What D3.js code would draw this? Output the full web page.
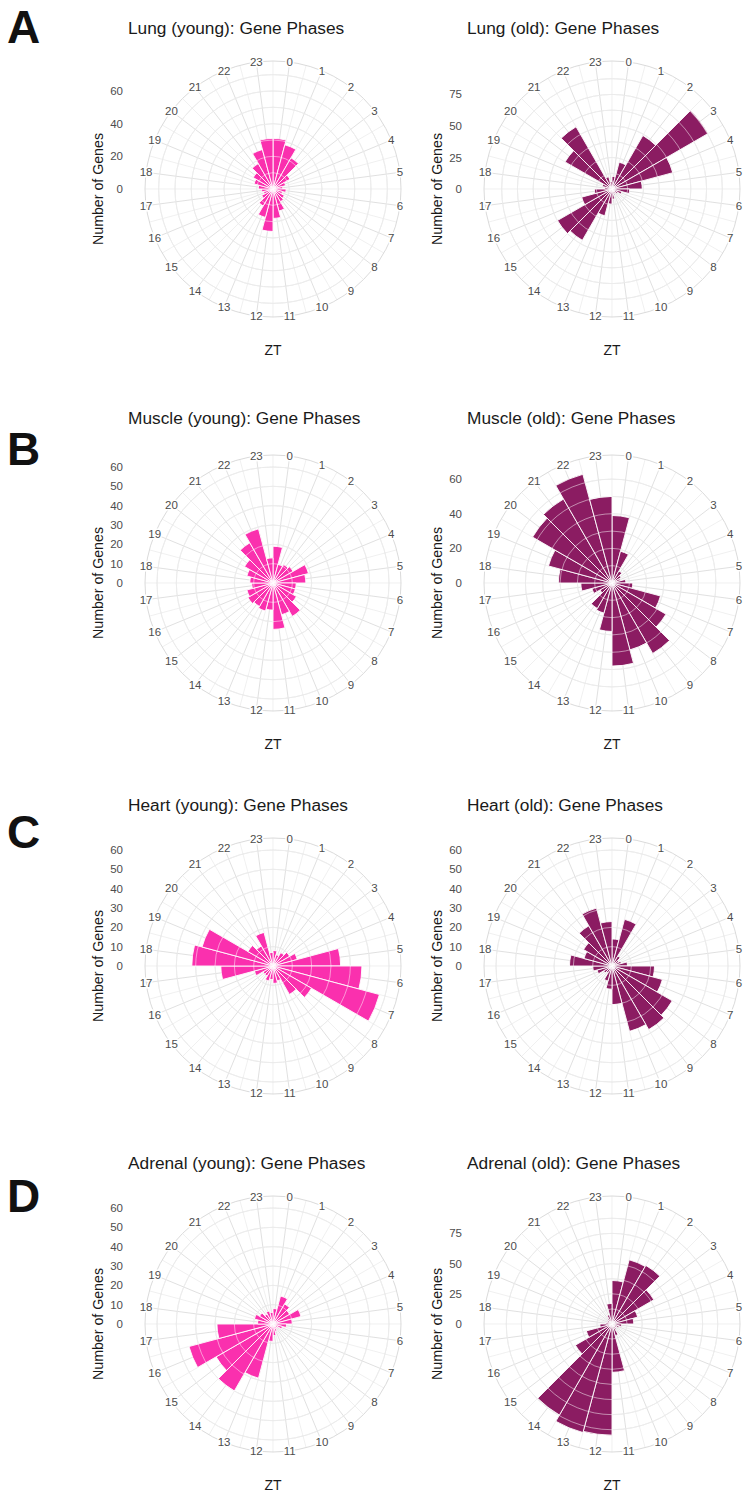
<!DOCTYPE html>
<html><head><meta charset="utf-8">
<script src="https://cdn.jsdelivr.net/npm/d3@7"></script>
<style>
body{margin:0;background:#fff}
svg{display:block}
text{font-family:"Liberation Sans",Arial,Helvetica,sans-serif}
</style>
</head><body>
<svg id="chart" width="743" height="1494"></svg>
<script>
// ---------------- data ----------------
const hours = [0,1,2,3,4,5,6,7,8,9,10,11,12,13,14,15,16,17,18,19,20,21,22,23];
const lungYoung    = [31,28,22,12,8,6,8,6,8,9,14,18,26,18,12,8,6,7,9,12,14,18,25,31];
const lungOld      = [10,22,49,88,50,24,14,8,5,4,5,8,12,22,47,50,25,14,6,8,43,57,10,6];
const muscleYoung  = [19,10,11,12,19,17,12,12,14,20,17,24,14,15,14,15,14,11,12,14,17,24,29,13];
const muscleOld    = [39,19,8,6,5,8,12,29,36,47,40,48,28,18,17,8,12,18,31,38,53,56,65,50];
const heartYoung   = [8,6,8,10,13,35,46,57,23,17,8,9,7,8,6,6,10,27,42,38,15,12,18,7];
const heartOld     = [14,25,6,4,5,8,22,27,36,38,35,20,12,8,4,5,8,10,22,15,17,24,31,23];
const adrenalYoung = [8,15,12,10,15,10,7,5,3,3,4,6,9,29,40,34,45,29,8,10,8,6,7,6];
const adrenalOld   = [36,55,56,40,22,18,8,6,4,5,10,40,92,93,87,35,22,10,5,4,4,5,8,17];

const titles = ["Lung (young): Gene Phases","Lung (old): Gene Phases",
                "Muscle (young): Gene Phases","Muscle (old): Gene Phases",
                "Heart (young): Gene Phases","Heart (old): Gene Phases",
                "Adrenal (young): Gene Phases","Adrenal (old): Gene Phases"];
const ticksBy20 = [0,20,40,60];
const ticksBy25 = [0,25,50,75];
const ticksBy10 = [0,10,20,30,40,50,60];
const rowLetters = ["A","B","C","D"];

// ---------------- layout / style ----------------
const youngColor = "#FA30AE";
const oldColor = "#8B1C62";
const RING = 128;       // theta-label ring radius
const RMAX = 116;       // radius for radial domain max

const panels = [
  {values: lungYoung,    color: youngColor, cx:273, cy:189,  rmax:71, ticks:ticksBy20, step:10,   zt:true},
  {values: lungOld,      color: oldColor,   cx:612, cy:189,  rmax:92, ticks:ticksBy25, step:12.5, zt:true},
  {values: muscleYoung,  color: youngColor, cx:273, cy:583,  rmax:60, ticks:ticksBy10, step:10,   zt:true},
  {values: muscleOld,    color: oldColor,   cx:612, cy:583,  rmax:67, ticks:ticksBy20, step:10,   zt:true},
  {values: heartYoung,   color: youngColor, cx:273, cy:966,  rmax:60, ticks:ticksBy10, step:10,   zt:false},
  {values: heartOld,     color: oldColor,   cx:612, cy:966,  rmax:60, ticks:ticksBy10, step:10,   zt:false},
  {values: adrenalYoung, color: youngColor, cx:273, cy:1324, rmax:60, ticks:ticksBy10, step:10,   zt:true},
  {values: adrenalOld,   color: oldColor,   cx:612, cy:1324, rmax:96, ticks:ticksBy25, step:12.5, zt:true}
];
const titleY = [28, 418, 805, 1163];
const letterY = [43, 465, 848, 1212];

const svg = d3.select("#chart");
svg.append("rect").attr("width",743).attr("height",1494).attr("fill","#fff");

const theta = d3.scaleLinear().domain([-0.5, 23.5]).range([0, 2*Math.PI]);

panels.forEach((p, i) => {
  const row = Math.floor(i/2);
  const r = d3.scaleLinear().domain([0, p.rmax]).range([0, RMAX]);
  const g = svg.append("g").attr("transform", `translate(${p.cx},${p.cy})`);

  const circleVals = d3.range(p.step, p.rmax + 0.01, p.step).filter(v => r(v) <= RMAX + 1);
  const pt = (a, rad) => [rad*Math.sin(a), -rad*Math.cos(a)];

  // grid under bars
  const grid = g.append("g");
  hours.forEach(h => {
    const a1 = theta(h), a2 = theta(h - 0.5);
    const [x1,y1] = pt(a1, RING), [x2,y2] = pt(a2, RING);
    grid.append("line").attr("x1",0).attr("y1",0).attr("x2",x1).attr("y2",y1)
      .attr("stroke","#dcdcdc").attr("stroke-width",0.9);
    grid.append("line").attr("x1",0).attr("y1",0).attr("x2",x2).attr("y2",y2)
      .attr("stroke","#e6e6e6").attr("stroke-width",0.6);
  });
  circleVals.forEach(v => grid.append("circle").attr("r", r(v))
      .attr("fill","none").attr("stroke","#d6d6d6").attr("stroke-width",0.9));
  grid.append("circle").attr("r", RING).attr("fill","none")
      .attr("stroke","#d6d6d6").attr("stroke-width",0.9);

  // bars
  const arc = d3.arc().innerRadius(0);
  g.append("g").selectAll("path").data(hours).join("path")
    .attr("d", h => arc({startAngle: theta(h-0.5), endAngle: theta(h+0.5), outerRadius: r(p.values[h])}))
    .attr("fill", p.color).attr("stroke","#fff").attr("stroke-width",0.9);

  // grid lines over bars (light)
  const over = g.append("g");
  circleVals.forEach(v => over.append("circle").attr("r", r(v))
      .attr("fill","none").attr("stroke","rgba(255,255,255,0.55)").attr("stroke-width",0.9));

  // theta labels
  hours.forEach(h => {
    const [x,y] = pt(theta(h), RING);
    g.append("text").attr("x", x).attr("y", y).attr("dy","0.35em")
      .attr("text-anchor","middle").attr("font-size",11.5).attr("fill","#4d4d4d")
      .attr("stroke","#fff").attr("stroke-width",3).attr("paint-order","stroke")
      .text(h);
  });

  // radial axis labels
  p.ticks.forEach(t => {
    svg.append("text").attr("x", p.cx - 150).attr("y", p.cy - r(t)).attr("dy","0.35em")
      .attr("text-anchor","end").attr("font-size",11.5).attr("fill","#4d4d4d").text(t);
  });

  // axis titles
  svg.append("text").attr("transform", `translate(${p.cx - 170},${p.cy}) rotate(-90)`)
    .attr("text-anchor","middle").attr("font-size",14.2).attr("fill","#1a1a1a").text("Number of Genes");
  if (p.zt) {
    svg.append("text").attr("x", p.cx).attr("y", p.cy + 166)
      .attr("text-anchor","middle").attr("font-size",14).attr("fill","#1a1a1a").text("ZT");
  }
  // title
  svg.append("text").attr("x", p.cx - 145).attr("y", titleY[row]).attr("dy","0.35em")
    .attr("font-size",17.3).attr("fill","#1a1a1a").text(titles[i]);
});

rowLetters.forEach((L, k) => {
  svg.append("text").attr("x", 7).attr("y", letterY[k])
    .attr("font-family","DejaVu Sans").attr("font-weight","bold")
    .attr("font-size",46).attr("fill","#111").text(L);
});
</script>
</body></html>
